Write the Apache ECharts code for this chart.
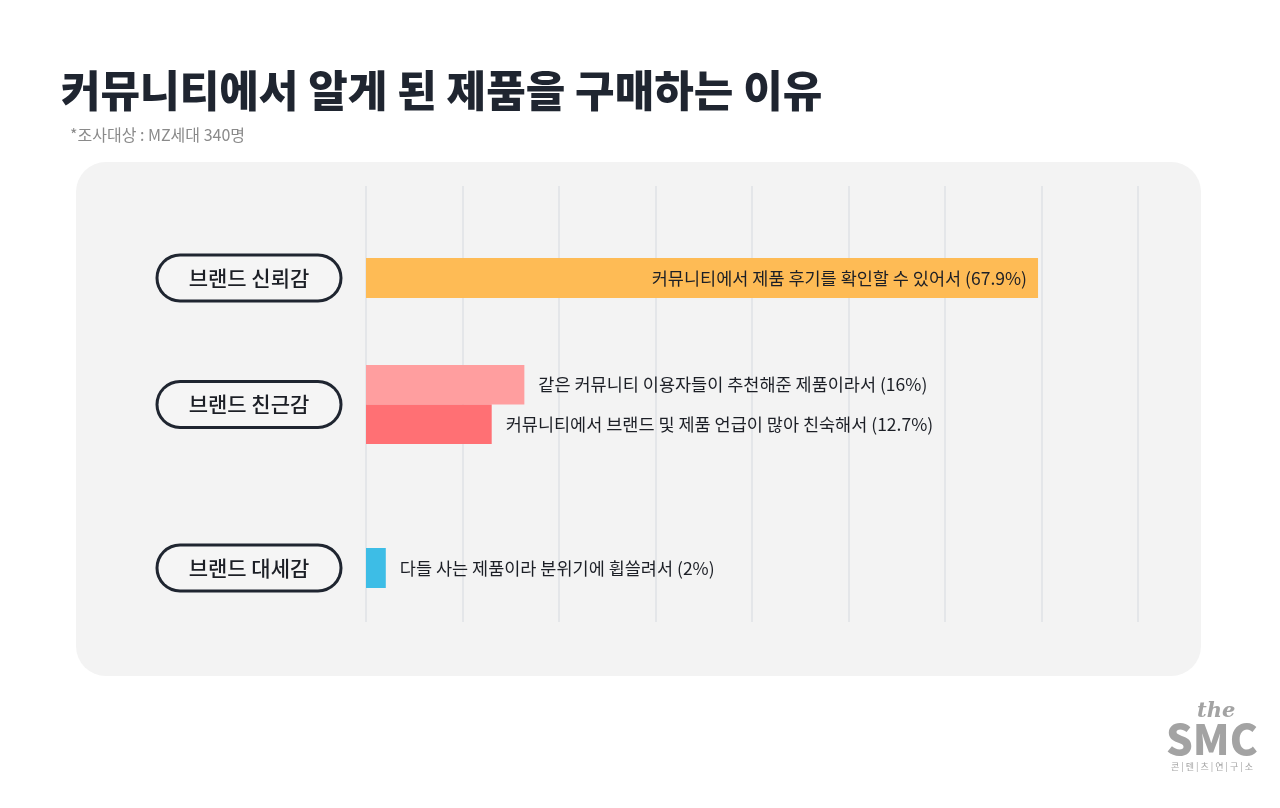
<!DOCTYPE html>
<html lang="ko">
<head>
<meta charset="UTF-8">
<title>커뮤니티에서 알게 된 제품을 구매하는 이유</title>
<script src="https://cdn.jsdelivr.net/npm/echarts@6/dist/echarts.min.js"></script>
<style>
  html, body { margin: 0; padding: 0; background: #ffffff; }
  #chart { width: 1280px; height: 808px; }
</style>
</head>
<body>
<div id="chart"></div>
<script>
// 데이터
var groups = ['브랜드 신뢰감', '브랜드 친근감', '브랜드 대세감'];
var reasons = [
    '커뮤니티에서 제품 후기를 확인할 수 있어서',
    '같은 커뮤니티 이용자들이 추천해준 제품이라서',
    '커뮤니티에서 브랜드 및 제품 언급이 많아 친숙해서',
    '다들 사는 제품이라 분위기에 휩쓸려서'
];
var shares = [67.9, 16, 12.7, 2];
var reasonGroup = [0, 1, 1, 2];

// 스타일
var barColors = ['#FEBB55', '#FF9E9F', '#FF7074', '#3DBDE6'];
var font = 'Noto Sans CJK KR';
var xMax = 78, xStep = 9.75;
var groupBoxes = [{top: 258, height: 40}, {top: 365, height: 79}, {top: 548, height: 40}];

var dom = document.getElementById('chart');
var myChart = echarts.init(dom);

var grids = [{left: 366, width: 772, top: 186, height: 436}];
var xAxes = [{
    gridIndex: 0, type: 'value', min: 0, max: xMax, interval: xStep,
    axisLine: {show: false}, axisTick: {show: false}, axisLabel: {show: false},
    splitLine: {show: true, lineStyle: {color: '#dfe2e6', width: 1.5}}
}];
var yAxes = [{gridIndex: 0, type: 'value', show: false}];
var series = [];

groups.forEach(function (g, i) {
    var gi = i + 1;
    grids.push({left: 366, width: 772, top: groupBoxes[i].top, height: groupBoxes[i].height});
    xAxes.push({
        gridIndex: gi, type: 'value', min: 0, max: xMax, interval: xStep,
        axisLine: {show: false}, axisTick: {show: false}, axisLabel: {show: false}, splitLine: {show: false}
    });
    yAxes.push({
        gridIndex: gi, type: 'category', data: [g], inverse: true,
        axisLine: {show: false}, axisTick: {show: false}, splitLine: {show: false},
        axisLabel: {
            align: 'center', margin: 117,
            fontFamily: font, fontSize: 21, fontWeight: 500, color: '#1c1f26',
            width: 181, height: 43, lineHeight: 43,
            backgroundColor: '#f5f5f5', borderColor: '#1f2530', borderWidth: 3, borderRadius: 23
        }
    });
});

reasons.forEach(function (r, k) {
    var inside = k === 0;
    series.push({
        name: r,
        type: 'bar',
        xAxisIndex: reasonGroup[k] + 1,
        yAxisIndex: reasonGroup[k] + 1,
        data: [shares[k]],
        barGap: 0,
        barCategoryGap: 0,
        itemStyle: {color: barColors[k]},
        silent: true,
        label: {
            show: true,
            position: inside ? 'insideRight' : 'right',
            distance: inside ? 11 : 14,
            fontFamily: font, fontSize: 17.5, color: '#1c1f26',
            formatter: function (p) { return r + ' (' + p.value + '%)'; }
        }
    });
});

var option = {
    backgroundColor: '#ffffff',
    animation: false,
    textStyle: {fontFamily: font},
    graphic: [
        {type: 'rect', z: -10, shape: {x: 76, y: 162, width: 1125, height: 514, r: 30}, style: {fill: '#f3f3f3'}},
        {type: 'text', left: 61, top: 69, style: {text: '커뮤니티에서 알게 된 제품을 구매하는 이유', font: '900 43px "Noto Sans CJK KR"', fill: '#1f2530'}},
        {type: 'text', left: 70, top: 127, style: {text: '*조사대상 : MZ세대 340명', font: '400 16px "Noto Sans CJK KR"', fill: '#8a8a8a'}},
        {type: 'text', left: 1197, top: 701, style: {text: 'the', font: 'italic 700 21px "DejaVu Serif"', fill: '#a3a3a3'}},
        {type: 'text', left: 1166, top: 718, style: {text: 'SMC', font: '900 42px "Noto Sans CJK KR"', fill: '#a3a3a3'}},
        {type: 'text', left: 1171, top: 762, style: {text: '콘 | 텐 | 츠 | 연 | 구 | 소', font: '400 9px "Noto Sans CJK KR"', fill: '#a3a3a3'}}
    ],
    grid: grids,
    xAxis: xAxes,
    yAxis: yAxes,
    series: series
};

if (option && typeof option === 'object') {
    myChart.setOption(option, true);
}
</script>
</body>
</html>
